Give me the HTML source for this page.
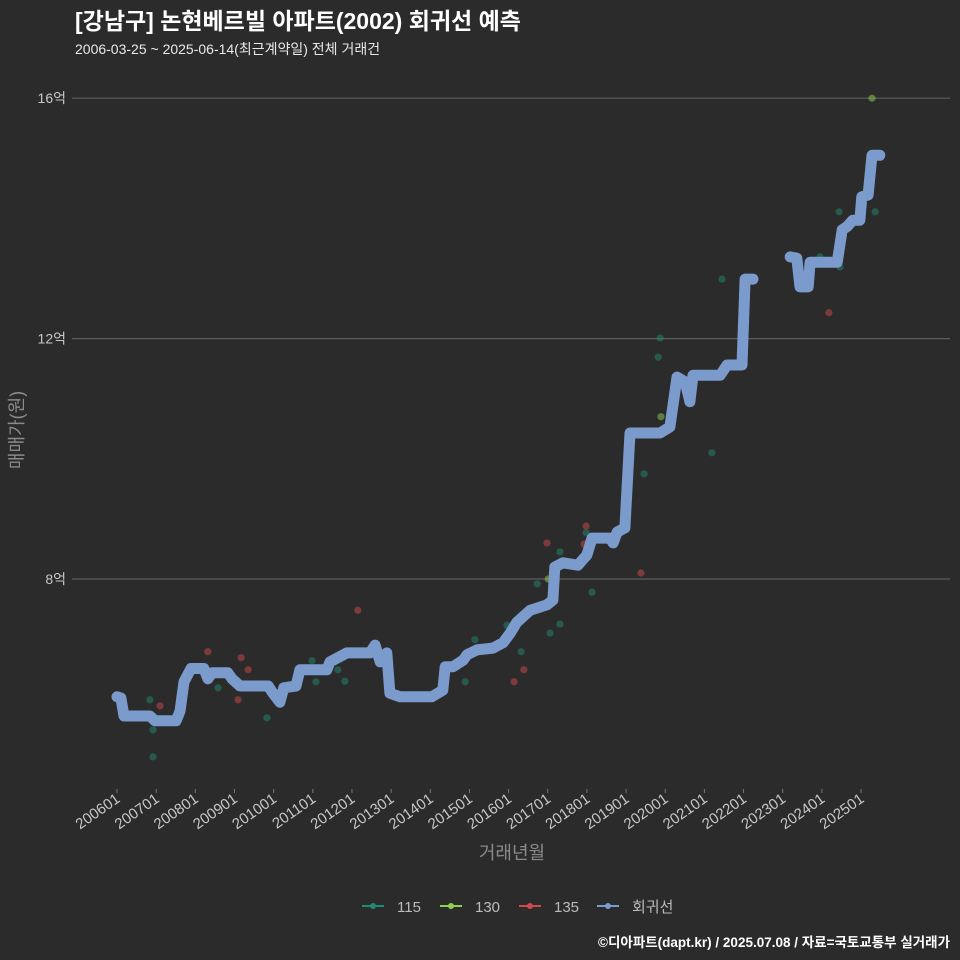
<!DOCTYPE html>
<html><head><meta charset="utf-8"><style>
html,body{margin:0;padding:0;background:#2c2b2c;overflow:hidden;width:960px;height:960px;}
svg{display:block;}
svg text{font-family:"Liberation Sans","Noto Sans CJK KR",sans-serif;}
</style></head><body>
<svg width="960" height="960" viewBox="0 0 960 960" xmlns="http://www.w3.org/2000/svg">
<rect width="960" height="960" fill="#2c2b2c"/>
<text x="75" y="29" fill="#ffffff" font-size="23" font-weight="bold">[강남구] 논현베르빌 아파트(2002) 회귀선 예측</text>
<text x="75" y="54" fill="#e8e8e8" font-size="14">2006-03-25 ~ 2025-06-14(최근계약일) 전체 거래건</text>
<g id="grid"></g>
<g id="yticks"></g>
<g id="xticks"></g>
<g id="points"></g>
<g id="line"></g>
<text transform="translate(23,430) rotate(-90)" text-anchor="middle" fill="#8a8a8a" font-size="18">매매가(원)</text>
<text x="512" y="859" text-anchor="middle" fill="#8a8a8a" font-size="18">거래년월</text>
<g>
<g><line x1="362" y1="906" x2="384" y2="906" stroke="#1f8a70" stroke-width="2"/><circle cx="373" cy="906" r="3" fill="#1f8a70"/><text x="397" y="912" fill="#bbbbbb" font-size="15">115</text></g>
<g><line x1="440" y1="906" x2="462" y2="906" stroke="#8fd14f" stroke-width="2"/><circle cx="451" cy="906" r="3" fill="#8fd14f"/><text x="475" y="912" fill="#bbbbbb" font-size="15">130</text></g>
<g><line x1="519" y1="906" x2="541" y2="906" stroke="#d04a4a" stroke-width="2"/><circle cx="530" cy="906" r="3" fill="#d04a4a"/><text x="554" y="912" fill="#bbbbbb" font-size="15">135</text></g>
<g><line x1="597" y1="906" x2="619" y2="906" stroke="#7b9bcc" stroke-width="2"/><circle cx="608" cy="906" r="3" fill="#7b9bcc"/><text x="632" y="912" fill="#bbbbbb" font-size="15">회귀선</text></g>
</g>
<text x="950" y="947" text-anchor="end" fill="#ffffff" font-size="13.5" font-weight="bold">©디아파트(dapt.kr) / 2025.07.08 / 자료=국토교통부 실거래가</text>
</svg>
<script>
const yTicks=[8,12,16];
const yTickLabels=["8억","12억","16억"];
const xTicks=[2006,2007,2008,2009,2010,2011,2012,2013,2014,2015,2016,2017,2018,2019,2020,2021,2022,2023,2024,2025];
const xTickLabels=["200601","200701","200801","200901","201001","201101","201201","201301","201401","201501","201601","201701","201801","201901","202001","202101","202201","202301","202401","202501"];
const lineT=[2006.00,2006.10,2006.18,2006.84,2006.97,2007.51,2007.61,2007.71,2007.89,2008.22,2008.32,2008.43,2008.83,2008.94,2009.14,2009.86,2009.96,2010.16,2010.26,2010.57,2010.67,2011.36,2011.44,2011.87,2012.46,2012.59,2012.72,2012.89,2012.97,2013.23,2014.04,2014.32,2014.38,2014.58,2014.84,2014.94,2015.19,2015.60,2015.86,2016.04,2016.21,2016.55,2016.98,2017.13,2017.18,2017.39,2017.77,2018.00,2018.13,2018.59,2018.67,2018.77,2018.97,2019.10,2019.87,2020.12,2020.30,2020.51,2020.63,2020.71,2021.40,2021.58,2021.96,2022.04,2022.24,null,2023.19,2023.36,2023.44,2023.65,2023.70,2024.39,2024.52,2024.64,2024.79,2024.97,2025.02,2025.18,2025.28,2025.48];
const lineV=[6.04,6.02,5.72,5.72,5.64,5.64,5.80,6.29,6.51,6.51,6.34,6.44,6.44,6.34,6.22,6.22,6.12,5.95,6.19,6.22,6.49,6.49,6.62,6.77,6.77,6.90,6.62,6.77,6.10,6.04,6.04,6.15,6.54,6.54,6.65,6.74,6.82,6.85,6.94,7.10,7.28,7.48,7.57,7.65,8.20,8.27,8.23,8.40,8.68,8.68,8.60,8.78,8.85,10.43,10.43,10.53,11.36,11.28,10.95,11.39,11.39,11.56,11.56,12.99,12.99,null,13.36,13.34,12.86,12.86,13.27,13.27,13.81,13.86,13.97,13.97,14.36,14.39,15.05,15.05];
const p115T=[2006.84,2006.92,2006.92,2008.58,2009.83,2010.98,2011.08,2011.64,2011.82,2014.89,2015.14,2015.96,2016.32,2016.73,2017.06,2017.31,2017.31,2017.98,2018.13,2019.46,2021.19,2019.82,2019.87,2021.45,2023.95,2024.44,2024.46,2025.36];
const p115V=[5.99,5.49,5.04,6.19,5.69,6.64,6.29,6.49,6.30,6.29,6.99,7.23,6.79,7.92,7.10,7.25,8.45,8.77,7.78,9.75,10.10,11.69,12.01,12.99,13.36,14.11,13.19,14.11];
const p130T=[2017.01,2019.89,2025.28];
const p130V=[8.00,10.70,16.00];
const p135T=[2007.10,2008.32,2009.09,2009.17,2009.35,2012.15,2016.14,2016.39,2016.98,2017.98,2017.93,2019.38,2024.18];
const p135V=[5.89,6.79,5.99,6.69,6.49,7.48,6.29,6.49,8.60,8.88,8.58,8.10,12.43];

const NS="http://www.w3.org/2000/svg";
function X(t){return 117+(t-2006)*39.16;}
function Y(v){return 579-(v-8)*60.1;}
const grid=document.getElementById('grid'),yt=document.getElementById('yticks'),xt=document.getElementById('xticks');
yTicks.forEach((v,i)=>{
 const l=document.createElementNS(NS,'line');
 
 
 l.setAttribute('x1',72);l.setAttribute('x2',950);l.setAttribute('y1',Y(v));l.setAttribute('y2',Y(v));
 l.setAttribute('stroke','#5c5c5c');l.setAttribute('stroke-width','1.2');grid.appendChild(l);
 const t=document.createElementNS(NS,'text');
 
 
 t.setAttribute('x',66);t.setAttribute('y',Y(v)+5);t.setAttribute('text-anchor','end');
 t.setAttribute('fill','#c8c8c8');t.setAttribute('font-size','14');t.textContent=yTickLabels[i];yt.appendChild(t);
});
xTicks.forEach((v,i)=>{
 const x=X(v);
 const l=document.createElementNS(NS,'line');
 
 
 l.setAttribute('x1',x);l.setAttribute('x2',x);l.setAttribute('y1',789);l.setAttribute('y2',793);
 l.setAttribute('stroke','#777');xt.appendChild(l);
 const t=document.createElementNS(NS,'text');
 
 
 t.setAttribute('transform','translate('+(x+4)+',801) rotate(-35)');t.setAttribute('text-anchor','end');
 t.setAttribute('fill','#c8c8c8');t.setAttribute('font-size','15');t.textContent=xTickLabels[i];xt.appendChild(t);
});
const pts=document.getElementById('points');
function drawPts(T,V,color,name){
 T.forEach((t,i)=>{
  const c=document.createElementNS(NS,'circle');
  
  
  c.setAttribute('cx',X(t));c.setAttribute('cy',Y(V[i]));c.setAttribute('r',3.6);
  c.setAttribute('fill',color);c.setAttribute('fill-opacity','0.5');pts.appendChild(c);
 });
}
drawPts(p115T,p115V,'#1f8a70','point-115');
drawPts(p130T,p130V,'#8fd14f','point-130');
drawPts(p135T,p135V,'#d04a4a','point-135');
let d='',move=true;
lineT.forEach((t,i)=>{
 if(t===null){move=true;return;}
 d+=(move?'M':'L')+X(t).toFixed(1)+','+Y(lineV[i]).toFixed(1)+' ';move=false;
});
const p=document.createElementNS(NS,'path');


p.setAttribute('d',d);p.setAttribute('fill','none');p.setAttribute('stroke','#7b9bcc');
p.setAttribute('stroke-width','11');p.setAttribute('stroke-linecap','round');p.setAttribute('stroke-linejoin','round');
document.getElementById('line').appendChild(p);
</script>
</body></html>
